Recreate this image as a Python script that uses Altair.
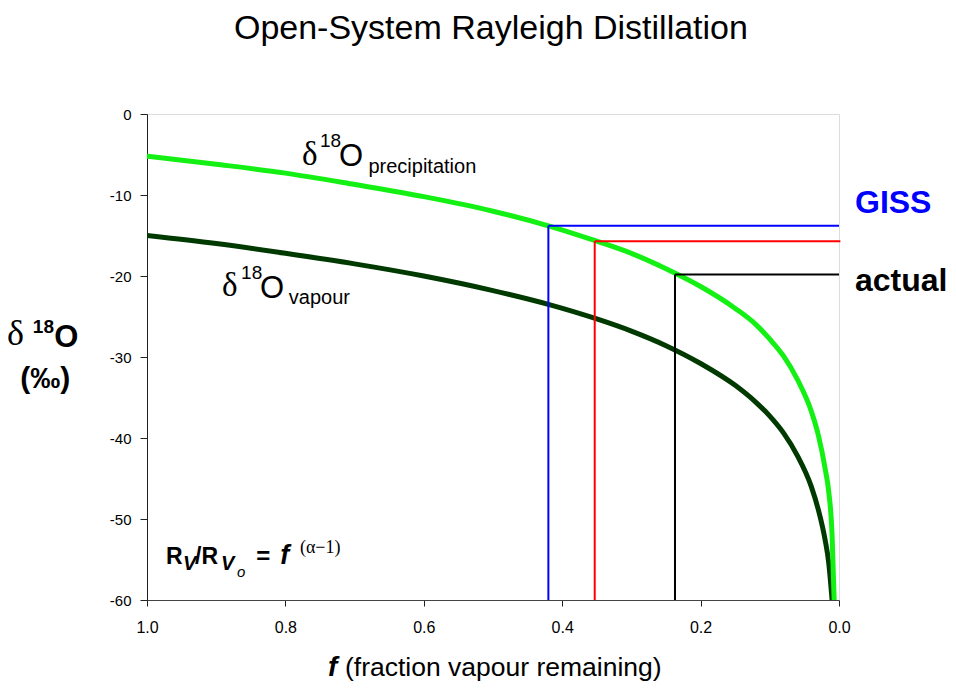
import altair as alt
import pandas as pd

# ---- data ----
f_vap = [1.0, 0.9, 0.8, 0.7, 0.6, 0.5, 0.42, 0.35, 0.3, 0.25, 0.2, 0.15, 0.12, 0.1, 0.08, 0.06, 0.04, 0.03, 0.02, 0.015, 0.01]
d_vap = [-15.0, -16.0, -17.2, -18.5, -20.0, -21.8, -23.5, -25.3, -26.8, -28.6, -30.8, -33.5, -35.6, -37.3, -39.4, -42.2, -46.0, -48.8, -52.6, -55.3, -60.0]

f_pre = [1.0, 0.9, 0.8, 0.7, 0.6, 0.5, 0.42, 0.35, 0.3, 0.25, 0.2, 0.15, 0.12, 0.1, 0.08, 0.06, 0.04, 0.03, 0.02, 0.015, 0.01, 0.007]
d_pre = [-5.2, -6.2, -7.3, -8.7, -10.2, -12.0, -13.8, -15.7, -17.2, -19.1, -21.3, -24.0, -26.0, -27.8, -29.9, -32.8, -36.7, -39.6, -43.8, -46.5, -52.0, -60.0]

ref_name = ["GISS", "model", "actual"]
ref_f = [0.42, 0.353, 0.237]
ref_d = [-13.8, -15.7, -19.8]
ref_end = [0.0, -0.002, 0.0]
ref_color = ["#0000ff", "#ff0000", "#000000"]

x_ticks = [1.0, 0.8, 0.6, 0.4, 0.2, 0.0]
y_ticks = [-60, -50, -40, -30, -20, -10, 0]

W, H = 692, 486
SANS = "Liberation Sans"
SERIF = "Liberation Serif"

xs = alt.Scale(domain=[0, 1], reverse=True, nice=False, zero=False)
ys = alt.Scale(domain=[-60, 0], nice=False)

vap = pd.DataFrame({"f": f_vap, "d": d_vap})
pre = pd.DataFrame({"f": f_pre, "d": d_pre})
ref = pd.DataFrame({"name": ref_name, "f": ref_f, "d": ref_d, "fend": ref_end,
                    "bottom": [-60] * 3, "color": ref_color})

xax = alt.Axis(values=x_ticks, format=".1f", title=None, grid=False,
               labelFont=SANS, labelFontSize=16, labelColor="black",
               domainColor="#444", tickColor="#222", tickSize=6, labelPadding=13,
               labelFlush=False)
yax = alt.Axis(values=y_ticks, title=None, grid=False,
               labelExpr="datum.value == 0 ? '0' : '-' + abs(datum.value)",
               labelFont=SANS, labelFontSize=15, labelColor="black",
               domainColor="#222", tickColor="#222", tickSize=7, labelPadding=9)

base_x = alt.X("f:Q", scale=xs, axis=xax)
base_y = alt.Y("d:Q", scale=ys, axis=yax)

vlines = alt.Chart(ref).mark_rule(strokeWidth=2).encode(
    x=alt.X("f:Q", scale=xs), y=alt.Y("bottom:Q", scale=ys), y2="d:Q",
    color=alt.Color("color:N", scale=None))
hlines = alt.Chart(ref).mark_rule(strokeWidth=2).encode(
    x=alt.X("f:Q", scale=xs), x2="fend:Q", y=alt.Y("d:Q", scale=ys),
    color=alt.Color("color:N", scale=None))

vap_line = alt.Chart(vap).mark_line(color="#003a00", strokeWidth=5, clip=True,
                                    interpolate="monotone").encode(x=base_x, y=base_y)
pre_line = alt.Chart(pre).mark_line(color="#14f014", strokeWidth=5, clip=True,
                                    interpolate="monotone").encode(
    x=alt.X("f:Q", scale=xs), y=alt.Y("d:Q", scale=ys))

# ---- text annotations (positions in data units: f, delta) ----
def txt(text, f, d, size, font=SANS, weight="normal", style="normal",
        color="black", align="left"):
    df = pd.DataFrame({"t": [text], "f": [f], "d": [d]})
    return alt.Chart(df).mark_text(font=font, fontSize=size, fontWeight=weight,
                                   fontStyle=style, color=color, align=align,
                                   baseline="alphabetic").encode(
        x=alt.X("f:Q", scale=xs), y=alt.Y("d:Q", scale=ys), text="t:N")

labels = [
    txt("Open-System Rayleigh Distillation", 0.503, 9.26, 34, align="center"),
    # precipitation label
    txt("δ", 0.776, -6.30, 33, font=SERIF),
    txt("18", 0.750, -4.07, 19),
    txt("O", 0.7225, -6.42, 31),
    txt("precipitation", 0.680, -7.28, 20),
    # vapour label
    txt("δ", 0.8916, -22.47, 33, font=SERIF),
    txt("18", 0.8640, -20.37, 19),
    txt("O", 0.8367, -22.72, 31),
    txt("vapour", 0.7950, -23.46, 20),
    # y title
    txt("δ", 1.2023, -28.52, 36, font=SERIF),
    txt("18", 1.1650, -27.04, 19, weight="bold"),
    txt("O", 1.1340, -28.77, 31, weight="bold"),
    txt("(‰)", 1.1470, -33.83, 30, weight="bold", align="center"),
    # right labels
    txt("GISS", -0.0231, -12.22, 32, weight="bold", color="#0000ff"),
    txt("actual", -0.0231, -21.85, 32, weight="bold"),
    # formula
    txt("R", 0.9725, -55.56, 23, weight="bold"),
    txt("V", 0.9480, -56.3, 20, weight="bold", style="italic"),
    txt("/R", 0.9306, -55.56, 23, weight="bold"),
    txt("V", 0.8930, -56.3, 20, weight="bold", style="italic"),
    txt("o", 0.8700, -57.1, 15, style="italic"),
    txt("=", 0.8420, -55.56, 24, weight="bold"),
    txt("f", 0.8075, -55.56, 27, weight="bold", style="italic"),
    txt("(α−1)", 0.7790, -54.2, 18, font=SERIF),
    # x title
    txt("f", 0.7384, -69.4, 28, weight="bold", style="italic"),
    txt("(fraction vapour remaining)", 0.7139, -69.4, 26.5),
]

chart = alt.layer(vap_line, pre_line, vlines, hlines, *labels).properties(
    width=W, height=H,
    autosize=alt.AutoSizeParams(type="none"),
    padding={"left": 139, "top": 106, "right": 108, "bottom": 82},
).configure_view(stroke="#666", strokeWidth=1.5).configure(background="white")

chart.save("out.html", embed_options={"renderer": "svg", "actions": False})
